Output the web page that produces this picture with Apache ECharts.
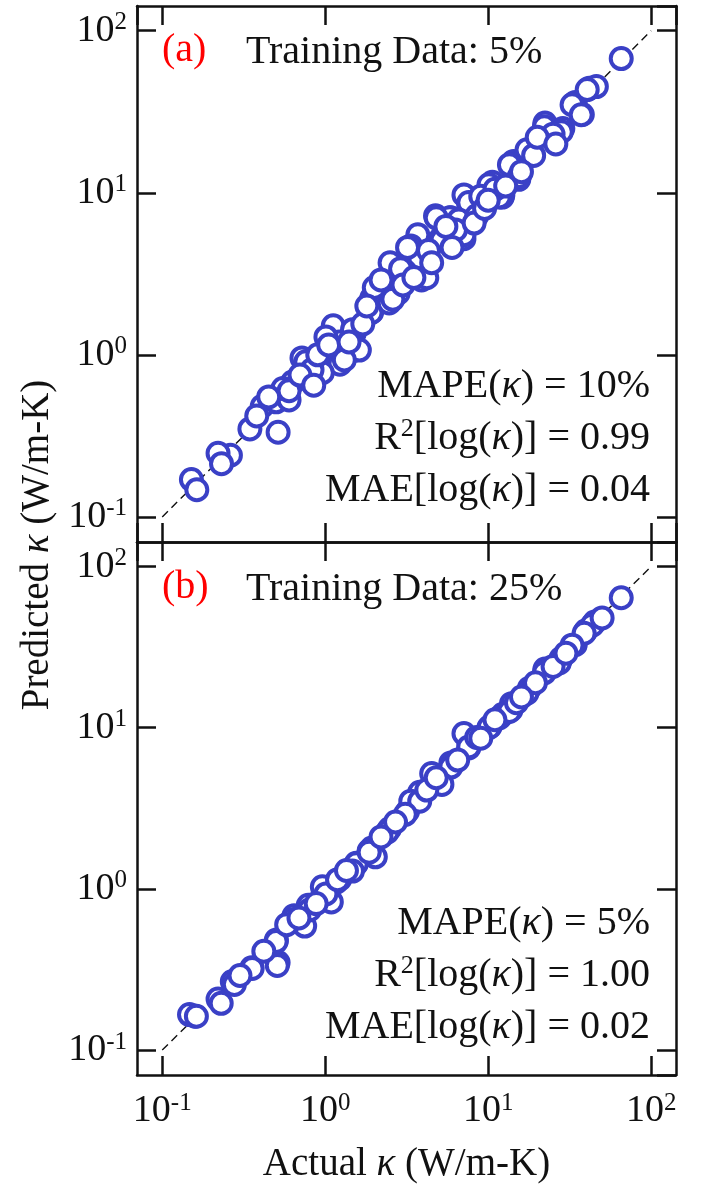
<!DOCTYPE html>
<html><head><meta charset="utf-8">
<script src="https://cdn.jsdelivr.net/npm/echarts@6/dist/echarts.min.js"></script>
<style>html,body{margin:0;padding:0;background:#fff}#c{width:702px;height:1185px}</style>
</head><body><div id="c"></div>
<script>
// Panel (a): Training Data 5%
const actualA = [65.5,41.7,46.1,34.2,37.8,28.7,22.3,17.9,15.7,14.3,15.4,10.6,12.3,7.8,7.1,7.4,5.9,4.75,5.1,7.1,3.7,3.9,3.2,3.35,2.5,2.5,1.93,1.93,2.24,3.9,1.51,1.17,1.12,1.51,1.23,0.787,0.644,0.869,0.502,0.411,0.514,0.345,0.262,0.220,0.231,0.151,0.163,
  13.8,10.1,12.2,7.6,5.8,7.1,5.2,4.8,3.8,3.2,3.1,4.2,2.4,1.91,2.47,1.22,1.47,1.01,0.72,1.62,
  0.50,0.60,0.63,0.76,0.96,1.31,0.83,
  40.5,32.7,37.2,22.1,28.1,17.3,13.5,15.5,7.6,11.7,6.6,
  2.0,2.8,1.7,2.9,0.9,0.55,0.45,9.0,8.5,6.3,19,11,25,
  1.05,1.4,1.8,2.2,2.6,3.0,3.5,4.3,4.5,5.5,6.0,8.2,9.5,10,12.8,16,20,26,0.6,0.7,0.38,0.85];
const predA = [67.3,44.1,45.2,36.1,30.4,24.9,26.9,18.5,14.8,15.6,12.1,11.6,9.7,8.8,9.7,6.7,7.0,7.2,5.2,5.2,5.5,4.1,3.3,4.7,3.7,2.5,2.24,1.84,2.14,2.9,1.37,1.21,1.51,1.07,0.875,0.918,0.682,0.753,0.52,0.482,0.333,0.349,0.240,0.247,0.213,0.170,0.147,
  14.9,11.2,9.4,8.4,7.0,5.5,5.1,7.0,3.97,4.6,3.25,2.99,2.52,1.82,2.09,1.20,1.43,1.29,0.957,1.07,
  0.513,0.527,0.68,0.906,0.775,0.93,0.81,
  43.3,34.9,30.3,25.5,23.8,18.4,14.9,12.6,8.7,9.4,6.8,
  2.6,2.4,1.55,3.4,1.0,0.62,0.55,9.5,7.2,5.9,17,10.5,23,
  1.15,1.2,2.0,2.9,2.2,2.7,3.0,4.4,3.7,6.2,4.6,6.5,8.0,9.0,11.0,13.5,22,20,0.6,0.75,0.42,0.65];
// Panel (b): Training Data 25%
const actualB = [65.5,45,39.7,34.2,22.3,28,17.9,13.9,12.3,10.3,7.6,7.1,5.9,5.1,4.5,3.8,3.2,3.35,2.48,1.93,2.03,1.55,1.23,1.01,1.09,0.787,0.644,0.748,0.502,0.514,0.354,0.269,0.220,0.159,0.147,
  10.1,7.6,5.9,5.2,3.8,3.1,2.4,1.86,1.17,13.8,11.7,1.55,0.96,
  0.162,0.23,0.277,0.356,0.508,0.50,0.628,0.80,1.01,1.19,1.47,1.86,0.88,
  43.5,38.8,32.7,27.3,22.1,17.3,13.5,7.6,14.9,
  2.7,4.2,4.8,6.5,8.5,9.0,2.2,1.35,0.42,0.58,0.69,0.30,19.5,25,30,50,16,11];
const predB = [64,45.2,39.9,32.7,23.1,26.9,17.6,14.1,12.1,10.2,8.2,9.2,6.05,4.7,5.2,3.97,3.03,3.5,2.36,1.79,1.58,1.44,1.15,0.966,0.83,0.79,0.682,0.588,0.482,0.349,0.324,0.266,0.207,0.162,0.166,
  10,7.5,5.7,4.45,3.5,2.9,2.25,1.72,1.10,12.9,11.5,1.43,1.03,
  0.162,0.195,0.255,0.321,0.335,0.471,0.644,0.74,0.93,1.14,1.29,1.69,0.81,
  43.3,38.6,32.5,25.2,21.9,16.4,12.6,7.6,14.3,
  2.6,4.1,4.9,6.3,8.7,8.6,2.1,1.3,0.41,0.6,0.66,0.29,19,24,29,48,15.5,11.2];
const diagonal = [0.1, 100];
const axisMin = 0.07, axisMax = 142;

const pairs = (xs, ys) => xs.map((x, i) => [x, ys[i]]);
const FONT = 'Liberation Serif';
const BLUE = '#3a40c6';

function tickFmt(v) {
  const l = Math.log10(v), r = Math.round(l);
  if (Math.abs(l - r) > 1e-6) return '';
  return '{b|10}{s|' + r + '}';
}
const tickRich = {
  b: {fontFamily: FONT, fontSize: 38, color: '#111'},
  s: {fontFamily: FONT, fontSize: 25, color: '#111', verticalAlign: 'top', padding: [0, 0, 16, 0]}
};
function mkAxis(dim, grid, pos, showLabel, extra) {
  return Object.assign({
    type: 'log', logBase: 10, gridIndex: grid, position: pos,
    min: axisMin, max: axisMax,
    axisLine: {show: true, lineStyle: {color: '#111', width: 2.5}},
    axisTick: {show: true, inside: true, length: 19, lineStyle: {color: '#111', width: 2.5}},
    minorTick: {show: false},
    splitLine: {show: false},
    axisLabel: {show: showLabel, formatter: tickFmt, rich: tickRich, margin: dim === 'x' ? 16 : 10,
      showMinLabel: false, showMaxLabel: false}
  }, extra || {});
}

const chart = echarts.init(document.getElementById('c'), null, {renderer: 'canvas'});
const grids = [
  {left: 137, top: 6, width: 539, height: 536},
  {left: 137, top: 542, width: 539, height: 537}
];
const xAxis = [
  mkAxis('x', 0, 'bottom', false),
  mkAxis('x', 0, 'top', false),
  mkAxis('x', 1, 'bottom', true, {name: 'Actual {i|κ} (W/m-K)', nameLocation: 'middle', nameGap: 70,
    nameTextStyle: {fontFamily: FONT, fontSize: 39, color: '#111', rich: {i: {fontFamily: FONT, fontSize: 39, fontStyle: 'italic', color: '#111'}}}}),
  mkAxis('x', 1, 'top', false)
];
const yAxis = [
  mkAxis('y', 0, 'left', true),
  mkAxis('y', 0, 'right', false),
  mkAxis('y', 1, 'left', true),
  mkAxis('y', 1, 'right', false)
];
function scatter(xi, yi, data) {
  return {type: 'scatter', xAxisIndex: xi, yAxisIndex: yi, data: data, symbol: 'circle', symbolSize: 21,
    itemStyle: {color: '#fff', borderColor: BLUE, borderWidth: 4, opacity: 1}, emphasis: {disabled: true}, z: 3, silent: true};
}
function diag(xi, yi) {
  return {type: 'line', xAxisIndex: xi, yAxisIndex: yi, data: pairs(diagonal, diagonal), symbol: 'none',
    lineStyle: {color: '#111', width: 1.4, type: [8, 5]}, z: 2, silent: true};
}
const txt = (x, y, text, align, color, extra) => ({type: 'text', x: x, y: y, z: 10, style: Object.assign({
  text: text, fontFamily: FONT, fontSize: 40, fill: color || '#111', align: align, verticalAlign: 'middle',
  rich: {
    i: {fontFamily: FONT, fontSize: 40, fontStyle: 'italic', fill: color || '#111'},
    sup: {fontFamily: FONT, fontSize: 26, fill: color || '#111', verticalAlign: 'top', padding: [0,0,18,0]}
  }}, extra || {})});

const annotations = [
  ['(a)', 'Training Data: 5%', 'MAPE({i|κ}) = 10%', 'R{sup|2}[log({i|κ})] = 0.99', 'MAE[log({i|κ})] = 0.04'],
  ['(b)', 'Training Data: 25%', 'MAPE({i|κ}) = 5%', 'R{sup|2}[log({i|κ})] = 1.00', 'MAE[log({i|κ})] = 0.02']
];
const graphics = [];
annotations.forEach((a, k) => {
  const off = k * 537;
  graphics.push(txt(162, 50 + off, a[0], 'left', '#ff0000'));
  graphics.push(txt(246, 52 + off, a[1], 'left'));
  graphics.push(txt(650, 386 + off, a[2], 'right'));
  graphics.push(txt(650, 438 + off, a[3], 'right'));
  graphics.push(txt(650, 490 + off, a[4], 'right'));
});
graphics.push({type: 'text', x: 38, y: 545, rotation: Math.PI / 2, z: 10, style: {
  text: 'Predicted {i|κ} (W/m-K)', fontFamily: FONT, fontSize: 39, fill: '#111', align: 'center', verticalAlign: 'middle',
  rich: {i: {fontFamily: FONT, fontSize: 39, fontStyle: 'italic', fill: '#111'}}}});

chart.setOption({
  animation: false,
  backgroundColor: '#fff',
  grid: grids,
  xAxis: xAxis,
  yAxis: yAxis,
  series: [
    diag(0, 0), scatter(0, 0, pairs(actualA, predA)),
    diag(2, 2), scatter(2, 2, pairs(actualB, predB))
  ],
  graphic: graphics
});
</script></body></html>
